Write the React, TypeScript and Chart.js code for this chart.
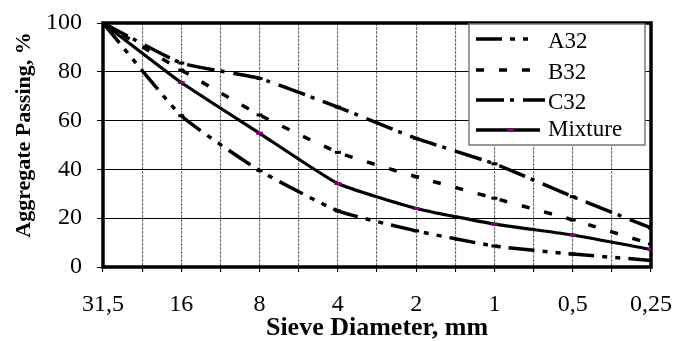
import React, { useEffect, useRef } from 'react';
import { Chart, registerables } from 'chart.js';

Chart.register(...registerables);

const categories = ['31,5', '16', '8', '4', '2', '1', '0,5', '0,25'];
const yTicks = [0, 20, 40, 60, 80, 100];
const seriesNames = ['A32', 'B32', 'C32', 'Mixture'];
const a32 = [100, 62, 39.5, 23, 14.8, 8.6, 5.3, 2.7];
const b32 = [100, 80.7, 62.3, 47, 37, 28.2, 19.3, 9.4];
const c32 = [100, 83.6, 77.3, 65.5, 52.7, 42.3, 28.8, 16];
const mixture = [100, 75.6, 54.8, 34.2, 24, 17.6, 13.1, 7.2];
const xTitle = 'Sieve Diameter, mm';
const yTitle = 'Aggregate Passing, %';

const FONT = "'Liberation Serif', 'Times New Roman', serif";

const dashes: Record<string, number[]> = {
  A32: [26, 8, 5, 8, 5, 8],
  B32: [8, 15],
  C32: [28, 6, 4, 9],
  Mixture: [],
};

const toPoints = (vals: number[]) => vals.map((v, i) => ({ x: i, y: v }));

const framePlugin = {
  id: 'frame',
  beforeDatasetsDraw(chart: any) {
    const { ctx, chartArea } = chart;
    ctx.save();
    ctx.setLineDash([]);
    ctx.strokeStyle = '#000';
    ctx.lineWidth = 3.5;
    ctx.strokeRect(chartArea.left, chartArea.top, chartArea.right - chartArea.left, chartArea.bottom - chartArea.top);
    ctx.translate(24, (chartArea.top + chartArea.bottom) / 2 - 10);
    ctx.rotate(-Math.PI / 2);
    ctx.fillStyle = '#000';
    ctx.font = `bold 22px ${FONT}`;
    ctx.textAlign = 'center';
    ctx.textBaseline = 'middle';
    ctx.fillText(yTitle, 0, 0);
    ctx.restore();
  },
};

const legendPlugin = {
  id: 'customLegend',
  afterDraw(chart: any) {
    const { ctx, chartArea } = chart;
    const bx = chartArea.right - 182;
    const by = chartArea.top + 1;
    ctx.save();
    ctx.fillStyle = '#fff';
    ctx.fillRect(bx, by, 176, 121);
    ctx.strokeStyle = '#777';
    ctx.lineWidth = 1.5;
    ctx.strokeRect(bx, by, 176, 121);
    const rows = [
      { ly: 15, ty: 24, x2: 63 },
      { ly: 46, ty: 55, x2: 66 },
      { ly: 76, ty: 84.5, x2: 76 },
      { ly: 106, ty: 112, x2: 71 },
    ];
    chart.data.datasets.forEach((ds: any, i: number) => {
      const r = rows[i];
      ctx.save();
      ctx.strokeStyle = '#000';
      ctx.lineWidth = 3.5;
      ctx.setLineDash(dashes[ds.label] || []);
      ctx.beginPath();
      ctx.moveTo(bx + 7, by + r.ly);
      ctx.lineTo(bx + r.x2, by + r.ly);
      ctx.stroke();
      ctx.restore();
      if (ds.label === 'Mixture') {
        ctx.fillStyle = '#800080';
        ctx.fillRect(bx + 38, by + r.ly - 1.5, 7, 3);
      }
      ctx.fillStyle = '#000';
      ctx.font = `23px ${FONT}`;
      ctx.textBaseline = 'alphabetic';
      ctx.textAlign = 'left';
      ctx.fillText(ds.label, bx + 79, by + r.ty);
    });
    ctx.restore();
  },
};

export default function App() {
  const ref = useRef<HTMLCanvasElement>(null);
  useEffect(() => {
    document.body.style.margin = '0';
    const lineDs = (label: string, vals: number[], width: number, pointColor: string, radius: number) => ({
      label,
      data: toPoints(vals),
      borderColor: '#000',
      borderWidth: width,
      borderDash: dashes[label],
      pointStyle: 'line',
      pointRadius: radius,
      pointBorderColor: pointColor,
      pointBackgroundColor: pointColor,
      pointBorderWidth: 3,
      tension: 0.15,
      fill: false,
    });
    const chart = new Chart(ref.current!, {
      type: 'line',
      data: {
        datasets: [
          lineDs(seriesNames[0], a32, 3.5, '#000', 3),
          lineDs(seriesNames[1], b32, 3.5, '#000', 3),
          lineDs(seriesNames[2], c32, 3.5, '#000', 3),
          lineDs(seriesNames[3], mixture, 3.2, '#800080', 3.5),
        ],
      },
      options: {
        responsive: false,
        animation: false,
        layout: { padding: { top: 23, right: 24, left: 0, bottom: 0 } },
        plugins: { legend: { display: false }, tooltip: { enabled: false } },
        scales: {
          x: {
            type: 'linear',
            min: 0,
            max: categories.length - 1,
            afterBuildTicks: (s: any) => {
              const t: any[] = [];
              for (let i = 0; i <= (categories.length - 1) * 2; i++) t.push({ value: i / 2 });
              s.ticks = t;
            },
            afterFit: (s: any) => {
              s.height = 74;
              s.paddingLeft = 0;
              s.paddingRight = 0;
            },
            ticks: {
              autoSkip: false,
              maxRotation: 0,
              padding: 18,
              color: '#000',
              font: { family: FONT, size: 24 },
              callback: (v: any) => (Number.isInteger(v) ? categories[v] : ''),
            },
            grid: { drawOnChartArea: true, color: '#707070', tickColor: '#000', tickLength: 5, lineWidth: 1.1 },
            border: { display: false, dash: [3, 1] },
            title: {
              display: true,
              text: xTitle,
              color: '#000',
              font: { family: FONT, size: 26, weight: 'bold', lineHeight: 1 },
              padding: { top: 0, bottom: 0 },
            },
          },
          y: {
            min: 0,
            max: 100,
            afterBuildTicks: (s: any) => {
              s.ticks = yTicks.map((v) => ({ value: v }));
            },
            afterFit: (s: any) => {
              s.width = 103;
              s.paddingTop = 0;
              s.paddingBottom = 0;
            },
            ticks: {
              padding: 15,
              color: '#000',
              font: { family: FONT, size: 24 },
            },
            grid: { color: '#000', tickColor: '#000', tickLength: 6, lineWidth: 1 },
            border: { display: false },
          },
        },
      } as any,
      plugins: [framePlugin, legendPlugin],
    });
    return () => chart.destroy();
  }, []);
  return (
    <div style={{ position: 'absolute', left: 0, top: 0, width: 675, height: 341, background: '#fff' }}>
      <canvas ref={ref} width={675} height={341} style={{ width: 675, height: 341, display: 'block' }} />
    </div>
  );
}
